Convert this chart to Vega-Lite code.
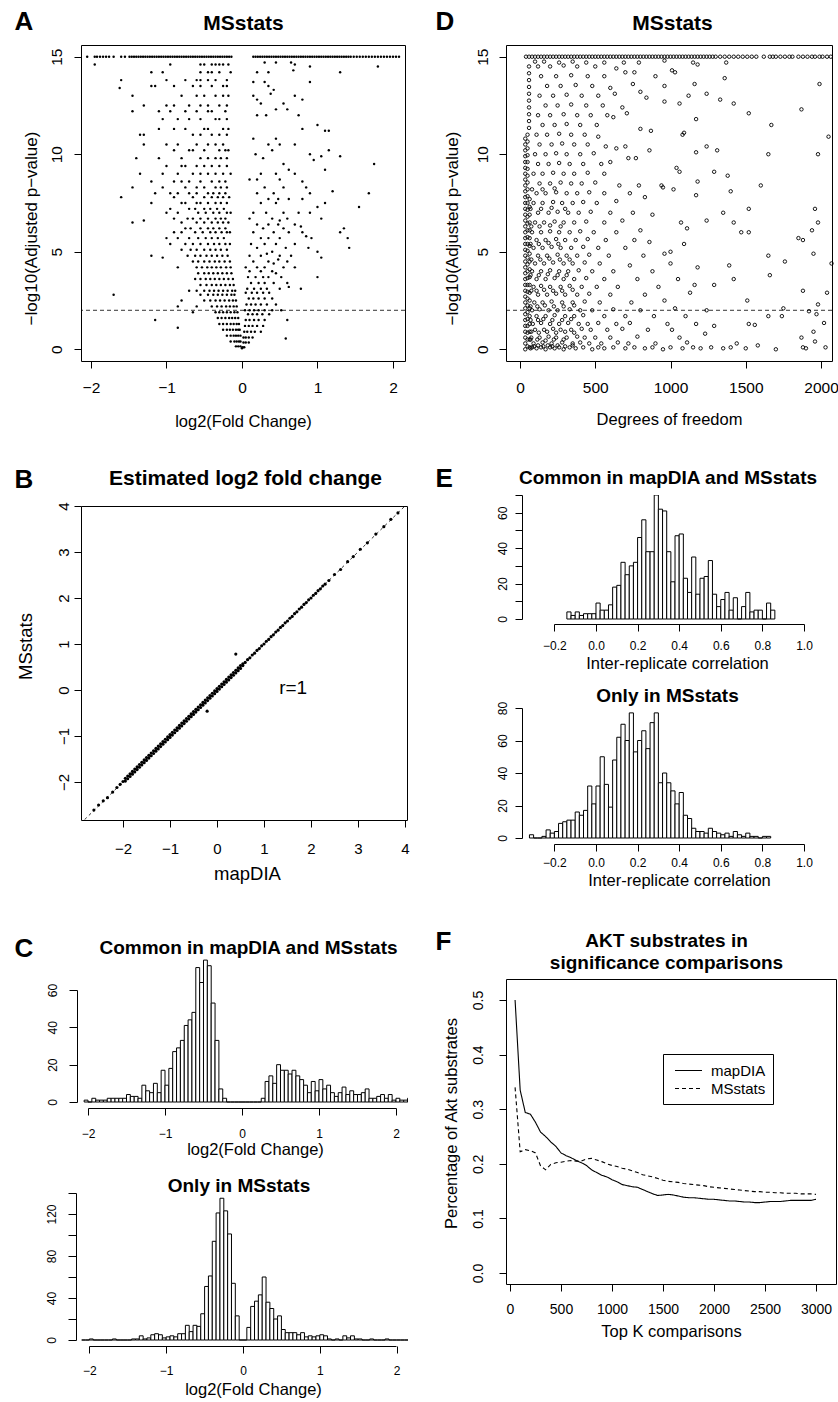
{
"$schema":"https://vega.github.io/schema/vega-lite/v6.json",
"padding":{"left":13,"top":7,"right":0,"bottom":0},
"config":{"font":"Liberation Sans","view":{"stroke":null},"axis":{"grid":false,"domainColor":"black","tickColor":"black","labelColor":"black","titleColor":"black","labelFlush":false,"labelOverlap":false,"titleFontWeight":"normal","tickWidth":1,"domainWidth":1}},
"datasets":{
"a":[
{"x":-2.05,"y":15},{"x":-1.95,"y":15},{"x":-1.92,"y":15},{"x":-1.88,"y":15},{"x":-1.84,"y":15},{"x":-1.8,"y":15},{"x":-1.76,"y":15},{"x":-1.7,"y":15},{"x":-1.6,"y":15},{"x":-1.55,"y":15},
{"x":-1.49,"y":15},{"x":-1.46,"y":15},{"x":-1.43,"y":15},{"x":-1.4,"y":15},{"x":-1.37,"y":15},{"x":-1.34,"y":15},{"x":-1.31,"y":15},{"x":-1.28,"y":15},{"x":-1.25,"y":15},{"x":-1.22,"y":15},{"x":-1.19,"y":15},{"x":-1.16,"y":15},{"x":-1.13,"y":15},{"x":-1.1,"y":15},{"x":-1.07,"y":15},{"x":-1.04,"y":15},{"x":-1.01,"y":15},{"x":-0.98,"y":15},{"x":-0.95,"y":15},{"x":-0.92,"y":15},{"x":-0.89,"y":15},{"x":-0.86,"y":15},{"x":-0.83,"y":15},{"x":-0.8,"y":15},{"x":-0.77,"y":15},{"x":-0.74,"y":15},{"x":-0.71,"y":15},{"x":-0.68,"y":15},{"x":-0.65,"y":15},{"x":-0.62,"y":15},{"x":-0.59,"y":15},{"x":-0.56,"y":15},{"x":-0.53,"y":15},{"x":-0.5,"y":15},{"x":-0.47,"y":15},{"x":-0.44,"y":15},{"x":-0.41,"y":15},{"x":-0.38,"y":15},{"x":-0.35,"y":15},{"x":-0.32,"y":15},{"x":-0.29,"y":15},{"x":-0.26,"y":15},{"x":-0.23,"y":15},{"x":-0.2,"y":15},{"x":-0.17,"y":15},{"x":-0.14,"y":15},
{"x":0.15,"y":15},{"x":0.18,"y":15},{"x":0.21,"y":15},{"x":0.24,"y":15},{"x":0.27,"y":15},{"x":0.3,"y":15},{"x":0.33,"y":15},{"x":0.36,"y":15},{"x":0.39,"y":15},{"x":0.42,"y":15},{"x":0.45,"y":15},{"x":0.48,"y":15},{"x":0.51,"y":15},{"x":0.54,"y":15},{"x":0.57,"y":15},{"x":0.6,"y":15},{"x":0.63,"y":15},{"x":0.66,"y":15},{"x":0.69,"y":15},{"x":0.72,"y":15},{"x":0.75,"y":15},{"x":0.78,"y":15},{"x":0.81,"y":15},{"x":0.84,"y":15},{"x":0.87,"y":15},{"x":0.9,"y":15},{"x":0.93,"y":15},{"x":0.96,"y":15},{"x":0.99,"y":15},{"x":1.02,"y":15},{"x":1.05,"y":15},{"x":1.08,"y":15},{"x":1.11,"y":15},{"x":1.14,"y":15},{"x":1.17,"y":15},{"x":1.2,"y":15},{"x":1.23,"y":15},{"x":1.26,"y":15},{"x":1.29,"y":15},{"x":1.32,"y":15},{"x":1.35,"y":15},{"x":1.38,"y":15},{"x":1.41,"y":15},{"x":1.44,"y":15},
{"x":1.48,"y":15},{"x":1.52,"y":15},{"x":1.56,"y":15},{"x":1.6,"y":15},{"x":1.64,"y":15},{"x":1.68,"y":15},{"x":1.72,"y":15},{"x":1.76,"y":15},{"x":1.8,"y":15},{"x":1.84,"y":15},{"x":1.88,"y":15},{"x":1.92,"y":15},{"x":1.96,"y":15},{"x":2.0,"y":15},{"x":2.04,"y":15},{"x":2.08,"y":15},
{"x":-1.95,"y":14.6},{"x":-0.95,"y":14.6},{"x":-0.55,"y":14.6},{"x":-0.5,"y":14.6},{"x":-0.4,"y":14.6},{"x":-0.35,"y":14.6},{"x":-0.3,"y":14.6},{"x":-0.25,"y":14.6},{"x":-0.18,"y":14.6},
{"x":-1.2,"y":14.2},{"x":-1.05,"y":14.2},{"x":-0.55,"y":14.2},{"x":-0.45,"y":14.2},{"x":-0.4,"y":14.2},{"x":-0.3,"y":14.2},{"x":-0.15,"y":14.2},
{"x":-1.6,"y":13.8},{"x":-1.0,"y":13.8},{"x":-0.75,"y":13.8},{"x":-0.6,"y":13.8},{"x":-0.55,"y":13.8},{"x":-0.45,"y":13.8},{"x":-0.35,"y":13.8},{"x":-0.2,"y":13.8},
{"x":-1.62,"y":13.4},{"x":-1.2,"y":13.5},{"x":-1.15,"y":13.5},{"x":-0.9,"y":13.5},{"x":-0.65,"y":13.5},{"x":-0.55,"y":13.5},{"x":-0.4,"y":13.5},{"x":-0.25,"y":13.5},{"x":-0.2,"y":13.5},
{"x":-1.45,"y":13.0},{"x":-0.8,"y":13.0},{"x":-0.6,"y":13.0},{"x":-0.5,"y":13.0},{"x":-0.35,"y":13.0},{"x":-0.25,"y":13.0},{"x":-0.18,"y":13.0},
{"x":-1.3,"y":12.5},{"x":-1.0,"y":12.5},{"x":-0.9,"y":12.5},{"x":-0.7,"y":12.5},{"x":-0.55,"y":12.5},{"x":-0.45,"y":12.5},{"x":-0.3,"y":12.5},{"x":-0.2,"y":12.5},
{"x":-1.45,"y":12.2},{"x":-1.1,"y":12.2},{"x":-0.95,"y":12.2},{"x":-0.75,"y":12.2},{"x":-0.6,"y":12.2},{"x":-0.45,"y":12.2},{"x":-0.4,"y":12.2},{"x":-0.22,"y":12.2},
{"x":-1.05,"y":11.8},{"x":-0.85,"y":11.8},{"x":-0.7,"y":11.8},{"x":-0.55,"y":11.8},{"x":-0.35,"y":11.8},{"x":-0.3,"y":11.8},{"x":-0.2,"y":11.8},
{"x":-1.1,"y":11.3},{"x":-0.9,"y":11.3},{"x":-0.75,"y":11.3},{"x":-0.5,"y":11.3},{"x":-0.45,"y":11.3},{"x":-0.25,"y":11.3},{"x":-0.18,"y":11.3},
{"x":-1.35,"y":11.0},{"x":-1.3,"y":11.0},{"x":-0.65,"y":11.0},{"x":-0.55,"y":11.0},{"x":-0.4,"y":11.0},{"x":-0.3,"y":11.0},{"x":-0.2,"y":11.0},
{"x":-1.3,"y":10.5},{"x":-1.0,"y":10.5},{"x":-0.85,"y":10.5},{"x":-0.6,"y":10.5},{"x":-0.45,"y":10.5},{"x":-0.35,"y":10.5},{"x":-0.25,"y":10.5},
{"x":-0.9,"y":10.2},{"x":-0.7,"y":10.2},{"x":-0.65,"y":10.2},{"x":-0.5,"y":10.2},{"x":-0.3,"y":10.2},{"x":-0.22,"y":10.2},{"x":-0.18,"y":10.2},
{"x":-1.4,"y":9.8},{"x":-1.1,"y":9.8},{"x":-0.8,"y":9.8},{"x":-0.55,"y":9.8},{"x":-0.45,"y":9.8},{"x":-0.35,"y":9.8},{"x":-0.28,"y":9.8},{"x":-0.2,"y":9.8},
{"x":-1.0,"y":9.4},{"x":-0.8,"y":9.4},{"x":-0.75,"y":9.4},{"x":-0.6,"y":9.4},{"x":-0.5,"y":9.4},{"x":-0.4,"y":9.4},{"x":-0.3,"y":9.4},{"x":-0.2,"y":9.4},
{"x":-1.35,"y":9.0},{"x":-1.05,"y":9.0},{"x":-0.85,"y":9.0},{"x":-0.65,"y":9.0},{"x":-0.55,"y":9.0},{"x":-0.45,"y":9.0},{"x":-0.35,"y":9.0},{"x":-0.25,"y":9.0},{"x":-0.15,"y":9.0},
{"x":-1.2,"y":8.6},{"x":-0.9,"y":8.6},{"x":-0.8,"y":8.6},{"x":-0.7,"y":8.6},{"x":-0.55,"y":8.6},{"x":-0.4,"y":8.6},{"x":-0.3,"y":8.6},{"x":-0.22,"y":8.6},
{"x":-1.45,"y":8.3},{"x":-1.05,"y":8.3},{"x":-0.75,"y":8.3},{"x":-0.6,"y":8.3},{"x":-0.5,"y":8.3},{"x":-0.35,"y":8.3},{"x":-0.28,"y":8.3},{"x":-0.2,"y":8.3},
{"x":-1.15,"y":8.0},{"x":-0.95,"y":8.0},{"x":-0.85,"y":8.0},{"x":-0.7,"y":8.0},{"x":-0.6,"y":8.0},{"x":-0.45,"y":8.0},{"x":-0.38,"y":8.0},{"x":-0.3,"y":8.0},{"x":-0.22,"y":8.0},
{"x":-1.6,"y":7.8},{"x":-0.9,"y":7.8},{"x":-0.65,"y":7.8},{"x":-0.5,"y":7.8},{"x":-0.4,"y":7.8},{"x":-0.32,"y":7.8},{"x":-0.25,"y":7.8},{"x":-0.17,"y":7.8},
{"x":-1.2,"y":7.5},{"x":-0.8,"y":7.5},{"x":-0.75,"y":7.5},{"x":-0.6,"y":7.5},{"x":-0.55,"y":7.5},{"x":-0.45,"y":7.5},{"x":-0.35,"y":7.5},{"x":-0.28,"y":7.5},{"x":-0.2,"y":7.5},
{"x":-0.95,"y":7.2},{"x":-0.7,"y":7.2},{"x":-0.62,"y":7.2},{"x":-0.5,"y":7.2},{"x":-0.42,"y":7.2},{"x":-0.33,"y":7.2},{"x":-0.24,"y":7.2},
{"x":-1.0,"y":7.0},{"x":-0.85,"y":7.0},{"x":-0.58,"y":7.0},{"x":-0.48,"y":7.0},{"x":-0.38,"y":7.0},{"x":-0.3,"y":7.0},{"x":-0.2,"y":7.0},{"x":-0.15,"y":7.0},
{"x":-0.9,"y":6.7},{"x":-0.72,"y":6.7},{"x":-0.65,"y":6.7},{"x":-0.55,"y":6.7},{"x":-0.45,"y":6.7},{"x":-0.35,"y":6.7},{"x":-0.28,"y":6.7},{"x":-0.22,"y":6.7},
{"x":-1.45,"y":6.5},{"x":-1.3,"y":6.6},{"x":-0.8,"y":6.5},{"x":-0.6,"y":6.5},{"x":-0.5,"y":6.5},{"x":-0.4,"y":6.5},{"x":-0.32,"y":6.5},{"x":-0.25,"y":6.5},{"x":-0.18,"y":6.5},
{"x":-0.75,"y":6.2},{"x":-0.68,"y":6.2},{"x":-0.55,"y":6.2},{"x":-0.45,"y":6.2},{"x":-0.38,"y":6.2},{"x":-0.3,"y":6.2},{"x":-0.22,"y":6.2},
{"x":-0.9,"y":6.0},{"x":-0.8,"y":6.0},{"x":-0.62,"y":6.0},{"x":-0.52,"y":6.0},{"x":-0.42,"y":6.0},{"x":-0.35,"y":6.0},{"x":-0.27,"y":6.0},{"x":-0.2,"y":6.0},{"x":-0.16,"y":6.0},
{"x":-1.0,"y":5.7},{"x":-0.85,"y":5.7},{"x":-0.7,"y":5.7},{"x":-0.58,"y":5.7},{"x":-0.48,"y":5.7},{"x":-0.4,"y":5.7},{"x":-0.32,"y":5.7},{"x":-0.24,"y":5.7},
{"x":-0.95,"y":5.4},{"x":-0.75,"y":5.4},{"x":-0.65,"y":5.4},{"x":-0.55,"y":5.4},{"x":-0.45,"y":5.4},{"x":-0.37,"y":5.4},{"x":-0.3,"y":5.4},{"x":-0.22,"y":5.4},{"x":-0.16,"y":5.4},
{"x":-0.8,"y":5.1},{"x":-0.68,"y":5.1},{"x":-0.6,"y":5.1},{"x":-0.5,"y":5.1},{"x":-0.42,"y":5.1},{"x":-0.35,"y":5.1},{"x":-0.28,"y":5.1},{"x":-0.2,"y":5.1},
{"x":-1.2,"y":4.8},{"x":-1.05,"y":4.7},{"x":-0.72,"y":4.8},{"x":-0.62,"y":4.8},{"x":-0.55,"y":4.8},{"x":-0.47,"y":4.8},{"x":-0.4,"y":4.8},{"x":-0.33,"y":4.8},{"x":-0.26,"y":4.8},{"x":-0.19,"y":4.8},
{"x":-0.65,"y":4.5},{"x":-0.58,"y":4.5},{"x":-0.5,"y":4.5},{"x":-0.43,"y":4.5},{"x":-0.36,"y":4.5},{"x":-0.3,"y":4.5},{"x":-0.23,"y":4.5},{"x":-0.16,"y":4.5},
{"x":-0.85,"y":4.2},{"x":-0.6,"y":4.2},{"x":-0.53,"y":4.2},{"x":-0.46,"y":4.2},{"x":-0.4,"y":4.2},{"x":-0.34,"y":4.2},{"x":-0.28,"y":4.2},{"x":-0.21,"y":4.2},{"x":-0.15,"y":4.2},
{"x":-0.58,"y":3.9},{"x":-0.5,"y":3.9},{"x":-0.44,"y":3.9},{"x":-0.38,"y":3.9},{"x":-0.32,"y":3.9},{"x":-0.26,"y":3.9},{"x":-0.2,"y":3.9},{"x":-0.14,"y":3.9},
{"x":-0.62,"y":3.6},{"x":-0.55,"y":3.6},{"x":-0.48,"y":3.6},{"x":-0.42,"y":3.6},{"x":-0.36,"y":3.6},{"x":-0.3,"y":3.6},{"x":-0.24,"y":3.6},{"x":-0.18,"y":3.6},{"x":-0.12,"y":3.6},
{"x":-0.55,"y":3.3},{"x":-0.47,"y":3.3},{"x":-0.4,"y":3.3},{"x":-0.34,"y":3.3},{"x":-0.28,"y":3.3},{"x":-0.22,"y":3.3},{"x":-0.16,"y":3.3},{"x":-0.11,"y":3.3},
{"x":-0.7,"y":3.0},{"x":-0.6,"y":3.0},{"x":-0.5,"y":3.0},{"x":-0.43,"y":3.0},{"x":-0.37,"y":3.0},{"x":-0.31,"y":3.0},{"x":-0.25,"y":3.0},{"x":-0.19,"y":3.0},{"x":-0.13,"y":3.0},{"x":-0.09,"y":3.0},
{"x":-1.7,"y":2.8},{"x":-0.55,"y":2.8},{"x":-0.45,"y":2.8},{"x":-0.38,"y":2.8},{"x":-0.32,"y":2.8},{"x":-0.26,"y":2.8},{"x":-0.2,"y":2.8},{"x":-0.14,"y":2.8},{"x":-0.1,"y":2.8},
{"x":-0.8,"y":2.5},{"x":-0.5,"y":2.5},{"x":-0.42,"y":2.5},{"x":-0.35,"y":2.5},{"x":-0.29,"y":2.5},{"x":-0.23,"y":2.5},{"x":-0.17,"y":2.5},{"x":-0.12,"y":2.5},{"x":-0.08,"y":2.5},
{"x":-0.85,"y":2.2},{"x":-0.6,"y":2.2},{"x":-0.4,"y":2.2},{"x":-0.33,"y":2.2},{"x":-0.27,"y":2.2},{"x":-0.21,"y":2.2},{"x":-0.16,"y":2.2},{"x":-0.11,"y":2.2},{"x":-0.07,"y":2.2},
{"x":-0.65,"y":1.9},{"x":-0.35,"y":1.9},{"x":-0.3,"y":1.9},{"x":-0.25,"y":1.9},{"x":-0.2,"y":1.9},{"x":-0.15,"y":1.9},{"x":-0.1,"y":1.9},{"x":-0.06,"y":1.9},
{"x":-0.32,"y":1.6},{"x":-0.27,"y":1.6},{"x":-0.22,"y":1.6},{"x":-0.17,"y":1.6},{"x":-0.13,"y":1.6},{"x":-0.09,"y":1.6},{"x":-0.05,"y":1.6},{"x":-1.15,"y":1.5},
{"x":-0.3,"y":1.3},{"x":-0.25,"y":1.3},{"x":-0.2,"y":1.3},{"x":-0.15,"y":1.3},{"x":-0.11,"y":1.3},{"x":-0.07,"y":1.3},{"x":-0.04,"y":1.3},{"x":-0.85,"y":1.1},
{"x":-0.25,"y":1.0},{"x":-0.2,"y":1.0},{"x":-0.16,"y":1.0},{"x":-0.12,"y":1.0},{"x":-0.08,"y":1.0},{"x":-0.05,"y":1.0},{"x":-0.03,"y":1.0},
{"x":-0.2,"y":0.7},{"x":-0.15,"y":0.7},{"x":-0.11,"y":0.7},{"x":-0.08,"y":0.7},{"x":-0.05,"y":0.7},{"x":-0.02,"y":0.7},
{"x":-0.15,"y":0.4},{"x":-0.1,"y":0.4},{"x":-0.07,"y":0.4},{"x":-0.04,"y":0.4},{"x":-0.02,"y":0.4},
{"x":-0.08,"y":0.15},{"x":-0.05,"y":0.15},{"x":-0.02,"y":0.15},{"x":0.0,"y":0.05},
{"x":0.3,"y":14.7},{"x":0.45,"y":14.7},{"x":0.65,"y":14.7},{"x":0.7,"y":14.6},{"x":1.8,"y":14.5},{"x":0.9,"y":14.5},
{"x":0.2,"y":14.2},{"x":0.35,"y":14.2},{"x":0.68,"y":14.3},{"x":1.3,"y":14.2},{"x":0.15,"y":13.7},{"x":0.3,"y":13.7},{"x":0.9,"y":13.7},
{"x":0.35,"y":13.5},{"x":0.42,"y":13.3},{"x":0.38,"y":13.1},{"x":0.15,"y":13.0},{"x":0.7,"y":13.0},{"x":0.8,"y":12.8},{"x":0.2,"y":12.8},
{"x":0.55,"y":12.6},{"x":0.25,"y":12.6},{"x":0.45,"y":12.3},{"x":0.6,"y":12.3},{"x":0.2,"y":12.0},{"x":0.32,"y":12.0},{"x":0.75,"y":12.0},
{"x":1.0,"y":11.5},{"x":0.8,"y":11.3},{"x":1.1,"y":11.2},{"x":1.15,"y":11.2},{"x":0.15,"y":10.8},{"x":0.45,"y":10.8},
{"x":0.35,"y":10.5},{"x":0.5,"y":10.5},{"x":0.7,"y":10.5},{"x":0.4,"y":10.2},{"x":1.15,"y":10.2},
{"x":0.18,"y":10.0},{"x":0.9,"y":10.0},{"x":1.05,"y":9.9},{"x":1.3,"y":9.9},{"x":0.28,"y":9.8},{"x":0.95,"y":9.7},
{"x":1.75,"y":9.5},{"x":0.55,"y":9.5},{"x":0.62,"y":9.2},{"x":1.1,"y":9.2},{"x":0.25,"y":9.0},{"x":0.45,"y":9.0},{"x":0.7,"y":9.0},
{"x":0.1,"y":8.7},{"x":0.2,"y":8.7},{"x":0.5,"y":8.7},{"x":0.8,"y":8.6},{"x":0.3,"y":8.3},{"x":0.55,"y":8.3},{"x":0.85,"y":8.3},
{"x":0.2,"y":8.0},{"x":0.42,"y":8.0},{"x":0.9,"y":8.0},{"x":1.2,"y":8.1},{"x":1.68,"y":8.0},
{"x":0.35,"y":7.7},{"x":0.48,"y":7.7},{"x":0.62,"y":7.7},{"x":0.8,"y":7.7},{"x":0.25,"y":7.5},{"x":0.45,"y":7.5},{"x":1.1,"y":7.5},
{"x":1.55,"y":7.3},{"x":1.0,"y":7.3},{"x":0.15,"y":7.0},{"x":0.32,"y":7.0},{"x":0.55,"y":7.0},{"x":0.75,"y":7.0},{"x":0.9,"y":7.0},
{"x":0.1,"y":6.7},{"x":0.4,"y":6.7},{"x":0.6,"y":6.7},{"x":0.5,"y":6.6},{"x":1.05,"y":6.7},
{"x":0.2,"y":6.4},{"x":0.35,"y":6.4},{"x":0.48,"y":6.4},{"x":0.7,"y":6.4},{"x":0.78,"y":6.3},
{"x":1.35,"y":6.2},{"x":0.28,"y":6.2},{"x":0.55,"y":6.2},{"x":0.15,"y":6.0},{"x":0.42,"y":6.0},{"x":0.62,"y":6.0},{"x":0.8,"y":6.0},{"x":1.3,"y":6.0},
{"x":0.25,"y":5.7},{"x":0.35,"y":5.7},{"x":0.5,"y":5.7},{"x":0.85,"y":5.8},{"x":0.92,"y":5.7},{"x":1.4,"y":5.7},
{"x":0.12,"y":5.4},{"x":0.3,"y":5.4},{"x":0.45,"y":5.4},{"x":0.7,"y":5.4},{"x":0.2,"y":5.2},{"x":0.58,"y":5.2},{"x":0.88,"y":5.2},{"x":1.42,"y":5.2},
{"x":0.4,"y":5.0},{"x":0.33,"y":4.9},{"x":1.0,"y":5.0},{"x":0.1,"y":4.8},{"x":0.25,"y":4.8},{"x":0.5,"y":4.8},{"x":0.65,"y":4.8},{"x":0.48,"y":4.6},
{"x":0.15,"y":4.5},{"x":0.35,"y":4.5},{"x":0.42,"y":4.4},{"x":0.6,"y":4.5},{"x":1.05,"y":4.7},
{"x":0.05,"y":4.2},{"x":0.2,"y":4.2},{"x":0.3,"y":4.2},{"x":0.55,"y":4.2},{"x":0.7,"y":4.2},{"x":0.1,"y":4.0},{"x":0.25,"y":4.0},{"x":0.4,"y":4.0},{"x":0.45,"y":3.9},
{"x":0.08,"y":3.7},{"x":0.18,"y":3.7},{"x":0.28,"y":3.7},{"x":0.35,"y":3.7},{"x":0.52,"y":3.7},{"x":1.0,"y":3.7},
{"x":0.12,"y":3.4},{"x":0.22,"y":3.4},{"x":0.3,"y":3.4},{"x":0.42,"y":3.4},{"x":0.6,"y":3.4},{"x":0.62,"y":3.2},
{"x":0.07,"y":3.1},{"x":0.16,"y":3.1},{"x":0.25,"y":3.1},{"x":0.33,"y":3.1},{"x":0.5,"y":3.1},{"x":0.78,"y":3.1},
{"x":0.05,"y":2.9},{"x":0.13,"y":2.9},{"x":0.2,"y":2.9},{"x":0.28,"y":2.9},{"x":0.36,"y":2.9},
{"x":0.09,"y":2.6},{"x":0.15,"y":2.6},{"x":0.22,"y":2.6},{"x":0.3,"y":2.6},{"x":0.4,"y":2.6},
{"x":0.06,"y":2.3},{"x":0.12,"y":2.3},{"x":0.18,"y":2.3},{"x":0.25,"y":2.3},{"x":0.33,"y":2.3},{"x":0.45,"y":2.3},
{"x":0.04,"y":2.0},{"x":0.1,"y":2.0},{"x":0.16,"y":2.0},{"x":0.22,"y":2.0},{"x":0.3,"y":2.0},{"x":0.4,"y":2.0},{"x":0.52,"y":2.0},
{"x":0.08,"y":1.8},{"x":0.14,"y":1.8},{"x":0.2,"y":1.8},{"x":0.27,"y":1.8},{"x":0.36,"y":1.8},
{"x":0.05,"y":1.5},{"x":0.1,"y":1.5},{"x":0.16,"y":1.5},{"x":0.22,"y":1.5},{"x":0.3,"y":1.5},{"x":0.6,"y":1.5},
{"x":0.04,"y":1.2},{"x":0.09,"y":1.2},{"x":0.14,"y":1.2},{"x":0.2,"y":1.2},{"x":0.28,"y":1.2},
{"x":0.03,"y":0.9},{"x":0.07,"y":0.9},{"x":0.12,"y":0.9},{"x":0.17,"y":0.9},{"x":0.25,"y":0.9},
{"x":0.02,"y":0.6},{"x":0.05,"y":0.6},{"x":0.09,"y":0.6},{"x":0.14,"y":0.6},{"x":0.58,"y":0.55},
{"x":0.02,"y":0.35},{"x":0.05,"y":0.35},{"x":0.09,"y":0.35},{"x":0.01,"y":0.1},{"x":0.03,"y":0.1}
],
"d":[
{"x":40,"y":15},{"x":60,"y":15},{"x":80,"y":15},{"x":100,"y":15},{"x":120,"y":15},{"x":140,"y":15},{"x":160,"y":15},{"x":180,"y":15},{"x":200,"y":15},{"x":220,"y":15},{"x":240,"y":15},{"x":260,"y":15},{"x":280,"y":15},{"x":300,"y":15},{"x":320,"y":15},{"x":340,"y":15},{"x":360,"y":15},{"x":380,"y":15},{"x":400,"y":15},{"x":420,"y":15},{"x":440,"y":15},{"x":460,"y":15},{"x":480,"y":15},{"x":500,"y":15},{"x":520,"y":15},{"x":540,"y":15},{"x":560,"y":15},{"x":580,"y":15},{"x":600,"y":15},{"x":620,"y":15},{"x":640,"y":15},{"x":660,"y":15},{"x":680,"y":15},{"x":700,"y":15},{"x":720,"y":15},{"x":740,"y":15},{"x":760,"y":15},{"x":780,"y":15},{"x":800,"y":15},{"x":820,"y":15},{"x":840,"y":15},{"x":860,"y":15},{"x":880,"y":15},{"x":900,"y":15},{"x":920,"y":15},{"x":940,"y":15},{"x":960,"y":15},{"x":980,"y":15},{"x":1000,"y":15},{"x":1020,"y":15},{"x":1040,"y":15},{"x":1060,"y":15},{"x":1080,"y":15},{"x":1100,"y":15},{"x":1120,"y":15},{"x":1140,"y":15},{"x":1160,"y":15},{"x":1180,"y":15},{"x":1200,"y":15},{"x":1220,"y":15},{"x":1240,"y":15},{"x":1260,"y":15},{"x":1280,"y":15},{"x":1300,"y":15},
{"x":1330,"y":15},{"x":1360,"y":15},{"x":1390,"y":15},{"x":1420,"y":15},{"x":1450,"y":15},{"x":1480,"y":15},{"x":1510,"y":15},{"x":1540,"y":15},{"x":1570,"y":15},{"x":1620,"y":15},{"x":1660,"y":15},{"x":1680,"y":15},{"x":1700,"y":15},{"x":1730,"y":15},{"x":1760,"y":15},{"x":1790,"y":15},{"x":1810,"y":15},{"x":1850,"y":15},{"x":1880,"y":15},{"x":1910,"y":15},{"x":1940,"y":15},{"x":1960,"y":15},{"x":1990,"y":15},{"x":2010,"y":15},{"x":2040,"y":15},{"x":2065,"y":15},
{"x":35,"y":0},{"x":35,"y":0.3},{"x":35,"y":0.6},{"x":35,"y":0.9},{"x":35,"y":1.2},{"x":35,"y":1.5},{"x":35,"y":1.8},{"x":35,"y":2.1},{"x":35,"y":2.4},{"x":35,"y":2.7},{"x":35,"y":3.0},{"x":35,"y":3.3},{"x":35,"y":3.6},{"x":35,"y":3.9},{"x":35,"y":4.2},{"x":35,"y":4.5},{"x":35,"y":4.8},{"x":35,"y":5.1},{"x":35,"y":5.4},{"x":35,"y":5.7},{"x":35,"y":6.0},{"x":35,"y":6.3},{"x":35,"y":6.6},{"x":35,"y":6.9},{"x":35,"y":7.2},{"x":35,"y":7.5},{"x":35,"y":7.8},{"x":35,"y":8.1},{"x":35,"y":8.4},{"x":35,"y":8.7},{"x":35,"y":9.0},{"x":35,"y":9.3},{"x":35,"y":9.6},{"x":35,"y":9.9},{"x":35,"y":10.2},{"x":35,"y":10.5},{"x":35,"y":10.8},
{"x":50,"y":0.15},{"x":50,"y":0.5},{"x":50,"y":0.85},{"x":50,"y":1.2},{"x":50,"y":1.55},{"x":50,"y":1.9},{"x":50,"y":2.25},{"x":50,"y":2.6},{"x":50,"y":2.95},{"x":50,"y":3.3},{"x":50,"y":3.65},{"x":50,"y":4.0},{"x":50,"y":4.35},{"x":50,"y":4.7},{"x":50,"y":5.05},{"x":50,"y":5.4},{"x":50,"y":5.75},{"x":50,"y":6.1},{"x":50,"y":6.45},{"x":50,"y":6.8},{"x":50,"y":7.15},{"x":50,"y":7.5},{"x":50,"y":7.85},{"x":50,"y":8.2},{"x":50,"y":8.55},{"x":50,"y":8.9},{"x":50,"y":9.25},{"x":50,"y":9.6},{"x":50,"y":9.95},{"x":50,"y":10.3},{"x":50,"y":10.65},{"x":50,"y":11.0},{"x":60,"y":11.35},{"x":60,"y":11.7},{"x":60,"y":12.05},{"x":60,"y":12.4},{"x":60,"y":12.75},{"x":60,"y":13.1},{"x":60,"y":13.45},{"x":60,"y":13.8},{"x":60,"y":14.15},{"x":60,"y":14.5},
{"x":64,"y":0.1},{"x":64,"y":0.5},{"x":64,"y":0.9},{"x":64,"y":1.3},{"x":64,"y":1.7},{"x":64,"y":2.1},{"x":64,"y":2.5},{"x":64,"y":2.9},{"x":64,"y":3.3},{"x":64,"y":3.7},{"x":64,"y":4.1},{"x":64,"y":4.5},{"x":64,"y":4.9},{"x":64,"y":5.3},{"x":64,"y":5.7},{"x":64,"y":6.1},{"x":64,"y":6.5},{"x":64,"y":6.9},{"x":64,"y":7.3},{"x":64,"y":7.7},
{"x":80,"y":0.1},{"x":110,"y":0.05},{"x":140,"y":0.1},{"x":170,"y":0.0},{"x":200,"y":0.1},{"x":230,"y":0.05},{"x":260,"y":0.1},{"x":290,"y":0.0},{"x":330,"y":0.1},{"x":370,"y":0.05},{"x":420,"y":0.1},{"x":480,"y":0.0},{"x":520,"y":0.1},{"x":560,"y":0.05},{"x":620,"y":0.1},{"x":700,"y":0.05},{"x":760,"y":0.1},{"x":830,"y":0.05},{"x":880,"y":0.1},{"x":950,"y":0.0},{"x":1000,"y":0.1},{"x":1080,"y":0.05},{"x":1150,"y":0.1},{"x":1200,"y":0.05},{"x":1270,"y":0.1},{"x":1350,"y":0.05},{"x":1400,"y":0.1},{"x":1500,"y":0.05},{"x":1580,"y":0.2},{"x":1700,"y":0.0},{"x":1880,"y":0.1},{"x":1900,"y":0.05},{"x":2030,"y":0.1},
{"x":90,"y":0.3},{"x":150,"y":0.35},{"x":210,"y":0.3},{"x":280,"y":0.35},{"x":350,"y":0.3},{"x":400,"y":0.35},{"x":460,"y":0.3},{"x":540,"y":0.3},{"x":650,"y":0.35},{"x":720,"y":0.3},{"x":900,"y":0.3},{"x":1110,"y":0.35},{"x":1440,"y":0.3},{"x":1960,"y":0.4},
{"x":75,"y":0.6},{"x":130,"y":0.6},{"x":190,"y":0.65},{"x":240,"y":0.6},{"x":310,"y":0.6},{"x":380,"y":0.65},{"x":430,"y":0.6},{"x":500,"y":0.6},{"x":600,"y":0.6},{"x":780,"y":0.65},{"x":1060,"y":0.6},{"x":1230,"y":0.8},{"x":1870,"y":0.6},
{"x":100,"y":1.0},{"x":160,"y":1.0},{"x":220,"y":1.05},{"x":270,"y":1.0},{"x":340,"y":1.0},{"x":410,"y":1.05},{"x":470,"y":1.0},{"x":580,"y":1.0},{"x":680,"y":1.05},{"x":850,"y":1.0},{"x":1010,"y":1.0},{"x":1290,"y":1.2},{"x":1520,"y":1.3},{"x":1950,"y":0.9},
{"x":85,"y":1.3},{"x":140,"y":1.35},{"x":200,"y":1.3},{"x":260,"y":1.3},{"x":320,"y":1.35},{"x":390,"y":1.3},{"x":450,"y":1.3},{"x":520,"y":1.35},{"x":640,"y":1.3},{"x":730,"y":1.35},{"x":980,"y":1.3},{"x":1170,"y":1.3},{"x":1560,"y":1.25},{"x":1740,"y":1.7},{"x":2020,"y":1.35},
{"x":110,"y":1.7},{"x":170,"y":1.7},{"x":230,"y":1.75},{"x":300,"y":1.7},{"x":360,"y":1.7},{"x":420,"y":1.75},{"x":560,"y":1.7},{"x":700,"y":1.7},{"x":890,"y":1.7},{"x":1100,"y":1.7},{"x":1650,"y":1.7},{"x":1970,"y":1.8},
{"x":80,"y":2.0},{"x":130,"y":2.05},{"x":190,"y":2.0},{"x":250,"y":2.0},{"x":330,"y":2.05},{"x":400,"y":2.0},{"x":480,"y":2.0},{"x":620,"y":2.05},{"x":800,"y":2.0},{"x":1030,"y":2.1},{"x":1240,"y":2.0},{"x":1750,"y":2.1},{"x":1920,"y":1.95},
{"x":95,"y":2.4},{"x":150,"y":2.4},{"x":210,"y":2.45},{"x":280,"y":2.4},{"x":350,"y":2.4},{"x":430,"y":2.45},{"x":530,"y":2.4},{"x":740,"y":2.4},{"x":960,"y":2.5},{"x":1510,"y":2.5},{"x":1980,"y":2.3},
{"x":120,"y":2.8},{"x":180,"y":2.8},{"x":240,"y":2.85},{"x":300,"y":2.8},{"x":380,"y":2.8},{"x":460,"y":2.85},{"x":600,"y":2.8},{"x":830,"y":2.8},{"x":1130,"y":2.9},{"x":1880,"y":3.0},{"x":2040,"y":2.9},
{"x":90,"y":3.2},{"x":140,"y":3.25},{"x":200,"y":3.2},{"x":270,"y":3.2},{"x":330,"y":3.25},{"x":410,"y":3.2},{"x":510,"y":3.2},{"x":650,"y":3.2},{"x":920,"y":3.2},{"x":1160,"y":3.3},{"x":1290,"y":3.3},
{"x":110,"y":3.6},{"x":170,"y":3.6},{"x":230,"y":3.65},{"x":290,"y":3.6},{"x":360,"y":3.6},{"x":440,"y":3.65},{"x":560,"y":3.6},{"x":780,"y":3.6},{"x":1050,"y":3.6},{"x":1420,"y":3.6},
{"x":80,"y":4.0},{"x":140,"y":4.0},{"x":200,"y":4.05},{"x":260,"y":4.0},{"x":320,"y":4.0},{"x":390,"y":4.05},{"x":480,"y":4.0},{"x":620,"y":4.0},{"x":880,"y":4.0},{"x":1180,"y":4.2},{"x":1660,"y":3.8},
{"x":100,"y":4.4},{"x":160,"y":4.4},{"x":220,"y":4.45},{"x":290,"y":4.4},{"x":350,"y":4.4},{"x":430,"y":4.45},{"x":530,"y":4.4},{"x":730,"y":4.3},{"x":1000,"y":4.4},{"x":1390,"y":4.3},{"x":1760,"y":4.5},{"x":2070,"y":4.4},
{"x":120,"y":4.8},{"x":180,"y":4.8},{"x":250,"y":4.85},{"x":310,"y":4.8},{"x":380,"y":4.8},{"x":460,"y":4.85},{"x":590,"y":4.8},{"x":820,"y":4.8},{"x":960,"y":4.9},{"x":1650,"y":4.8},{"x":1950,"y":4.9},
{"x":90,"y":5.2},{"x":150,"y":5.2},{"x":210,"y":5.25},{"x":270,"y":5.2},{"x":340,"y":5.2},{"x":420,"y":5.25},{"x":520,"y":5.2},{"x":700,"y":5.2},{"x":1000,"y":5.0},{"x":1090,"y":5.4},{"x":1880,"y":5.6},
{"x":110,"y":5.6},{"x":170,"y":5.6},{"x":240,"y":5.65},{"x":300,"y":5.6},{"x":370,"y":5.6},{"x":450,"y":5.65},{"x":570,"y":5.6},{"x":760,"y":5.6},{"x":860,"y":5.5},{"x":1470,"y":6.0},{"x":1850,"y":5.7},
{"x":80,"y":6.0},{"x":140,"y":6.0},{"x":200,"y":6.05},{"x":260,"y":6.0},{"x":330,"y":6.0},{"x":400,"y":6.05},{"x":490,"y":6.0},{"x":640,"y":6.0},{"x":800,"y":6.1},{"x":1110,"y":6.2},{"x":1520,"y":6.0},{"x":1940,"y":6.1},
{"x":100,"y":6.5},{"x":160,"y":6.5},{"x":230,"y":6.55},{"x":290,"y":6.5},{"x":360,"y":6.5},{"x":440,"y":6.55},{"x":560,"y":6.5},{"x":680,"y":6.6},{"x":1070,"y":6.5},{"x":1240,"y":6.6},{"x":1420,"y":6.5},{"x":1980,"y":6.5},
{"x":120,"y":7.0},{"x":190,"y":7.0},{"x":250,"y":7.05},{"x":320,"y":7.0},{"x":390,"y":7.0},{"x":470,"y":7.05},{"x":600,"y":7.0},{"x":750,"y":7.0},{"x":880,"y":6.9},{"x":1350,"y":7.0},{"x":1960,"y":7.2},
{"x":90,"y":7.5},{"x":150,"y":7.5},{"x":220,"y":7.55},{"x":280,"y":7.5},{"x":350,"y":7.5},{"x":420,"y":7.55},{"x":510,"y":7.5},{"x":640,"y":7.6},{"x":830,"y":7.8},{"x":1170,"y":7.9},{"x":1520,"y":7.2},
{"x":110,"y":8.0},{"x":170,"y":8.0},{"x":240,"y":8.05},{"x":310,"y":8.0},{"x":380,"y":8.0},{"x":460,"y":8.05},{"x":560,"y":8.0},{"x":730,"y":8.0},{"x":950,"y":8.3},{"x":1020,"y":8.2},{"x":1400,"y":8.1},
{"x":130,"y":8.5},{"x":200,"y":8.5},{"x":270,"y":8.55},{"x":340,"y":8.5},{"x":410,"y":8.5},{"x":500,"y":8.55},{"x":660,"y":8.4},{"x":790,"y":8.4},{"x":940,"y":8.4},{"x":1180,"y":8.6},{"x":1600,"y":8.4},
{"x":90,"y":9.0},{"x":150,"y":9.0},{"x":220,"y":9.05},{"x":290,"y":9.0},{"x":360,"y":9.0},{"x":450,"y":9.05},{"x":560,"y":9.0},{"x":1060,"y":9.1},{"x":1290,"y":9.1},{"x":1380,"y":8.9},
{"x":120,"y":9.5},{"x":190,"y":9.5},{"x":260,"y":9.55},{"x":330,"y":9.5},{"x":420,"y":9.5},{"x":540,"y":9.5},{"x":600,"y":9.6},{"x":720,"y":9.8},{"x":1040,"y":9.3},
{"x":100,"y":10.0},{"x":170,"y":10.0},{"x":240,"y":10.05},{"x":310,"y":10.0},{"x":400,"y":10.0},{"x":490,"y":10.05},{"x":640,"y":10.3},{"x":770,"y":9.8},{"x":860,"y":10.2},{"x":1170,"y":10.1},{"x":1310,"y":10.2},{"x":1650,"y":10.0},{"x":1980,"y":10.0},
{"x":130,"y":10.5},{"x":210,"y":10.5},{"x":280,"y":10.55},{"x":360,"y":10.5},{"x":450,"y":10.5},{"x":570,"y":10.4},{"x":700,"y":10.4},{"x":1080,"y":11.0},{"x":1240,"y":10.4},
{"x":110,"y":11.0},{"x":180,"y":11.0},{"x":260,"y":11.05},{"x":340,"y":11.0},{"x":430,"y":11.0},{"x":520,"y":10.9},{"x":800,"y":11.3},{"x":1090,"y":11.1},{"x":2050,"y":10.9},
{"x":150,"y":11.5},{"x":230,"y":11.5},{"x":310,"y":11.55},{"x":400,"y":11.5},{"x":510,"y":11.5},{"x":620,"y":11.9},{"x":870,"y":11.2},{"x":1670,"y":11.5},
{"x":120,"y":12.0},{"x":200,"y":12.0},{"x":290,"y":12.05},{"x":380,"y":12.0},{"x":470,"y":12.0},{"x":580,"y":12.0},{"x":710,"y":12.1},{"x":960,"y":12.7},{"x":1170,"y":11.8},{"x":1520,"y":12.1},{"x":1870,"y":12.3},
{"x":170,"y":12.5},{"x":250,"y":12.5},{"x":340,"y":12.55},{"x":440,"y":12.5},{"x":550,"y":12.5},{"x":680,"y":12.4},{"x":840,"y":12.9},{"x":1060,"y":12.6},{"x":1330,"y":12.8},{"x":1420,"y":12.6},
{"x":130,"y":13.0},{"x":220,"y":13.0},{"x":310,"y":13.05},{"x":410,"y":13.0},{"x":520,"y":13.0},{"x":630,"y":13.1},{"x":800,"y":13.2},{"x":1120,"y":13.0},{"x":1240,"y":13.1},
{"x":180,"y":13.5},{"x":270,"y":13.5},{"x":370,"y":13.55},{"x":480,"y":13.5},{"x":600,"y":13.4},{"x":750,"y":13.6},{"x":960,"y":13.5},{"x":1160,"y":13.6},{"x":1990,"y":13.6},
{"x":140,"y":14.0},{"x":240,"y":14.0},{"x":340,"y":14.05},{"x":450,"y":14.0},{"x":560,"y":14.0},{"x":700,"y":14.2},{"x":900,"y":14.0},{"x":1030,"y":14.2},{"x":1360,"y":13.9},
{"x":120,"y":14.5},{"x":200,"y":14.5},{"x":290,"y":14.55},{"x":380,"y":14.5},{"x":500,"y":14.5},{"x":640,"y":14.4},{"x":760,"y":14.2},{"x":1010,"y":14.3},{"x":1180,"y":14.6},
{"x":100,"y":14.75},{"x":160,"y":14.75},{"x":260,"y":14.7},{"x":350,"y":14.75},{"x":440,"y":14.7},{"x":560,"y":14.7},{"x":690,"y":14.7},{"x":790,"y":14.7},{"x":960,"y":14.8},{"x":1150,"y":14.7},{"x":1370,"y":14.7},
{"x":70,"y":0.05},{"x":95,"y":0.15},{"x":120,"y":0.2},{"x":155,"y":0.15},{"x":185,"y":0.2},{"x":215,"y":0.15},{"x":250,"y":0.2},{"x":300,"y":0.15},{"x":350,"y":0.2},
{"x":70,"y":0.5},{"x":115,"y":0.5},{"x":170,"y":0.45},{"x":225,"y":0.5},{"x":290,"y":0.5},
{"x":75,"y":0.9},{"x":125,"y":0.85},{"x":180,"y":0.9},{"x":240,"y":0.85},{"x":300,"y":0.9},{"x":360,"y":0.85},
{"x":70,"y":1.5},{"x":120,"y":1.5},{"x":155,"y":1.55},{"x":215,"y":1.5},{"x":280,"y":1.5},{"x":340,"y":1.55},
{"x":70,"y":2.2},{"x":115,"y":2.2},{"x":165,"y":2.25},{"x":225,"y":2.2},{"x":290,"y":2.2},{"x":360,"y":2.25},
{"x":75,"y":3.0},{"x":110,"y":3.0},{"x":160,"y":3.05},{"x":220,"y":3.0},{"x":280,"y":3.0},{"x":350,"y":3.05},
{"x":70,"y":3.8},{"x":125,"y":3.8},{"x":185,"y":3.85},{"x":250,"y":3.8},{"x":310,"y":3.8},
{"x":75,"y":4.6},{"x":135,"y":4.6},{"x":195,"y":4.65},{"x":265,"y":4.6},{"x":330,"y":4.6},
{"x":70,"y":5.4},{"x":125,"y":5.4},{"x":190,"y":5.45},{"x":255,"y":5.4},
{"x":75,"y":6.3},{"x":130,"y":6.3},{"x":200,"y":6.35},{"x":270,"y":6.3},
{"x":70,"y":7.2},{"x":140,"y":7.2},{"x":210,"y":7.25},{"x":300,"y":7.2},
{"x":80,"y":8.2},{"x":150,"y":8.2},{"x":230,"y":8.25}
],
"b":[
{"x":-2.62,"y":-2.61},{"x":-2.52,"y":-2.5},{"x":-2.42,"y":-2.41},{"x":-2.33,"y":-2.34},{"x":-2.22,"y":-2.22},{"x":-2.13,"y":-2.12},{"x":-2.06,"y":-2.05},{"x":-2.0,"y":-1.99},
{"x":-1.95,"y":-1.98},{"x":-1.95,"y":-1.92},{"x":-1.9,"y":-1.93},{"x":-1.9,"y":-1.87},{"x":-1.85,"y":-1.88},{"x":-1.85,"y":-1.82},{"x":-1.8,"y":-1.83},{"x":-1.8,"y":-1.77},{"x":-1.75,"y":-1.78},{"x":-1.75,"y":-1.72},{"x":-1.7,"y":-1.73},{"x":-1.7,"y":-1.67},{"x":-1.65,"y":-1.68},{"x":-1.65,"y":-1.62},{"x":-1.6,"y":-1.63},{"x":-1.6,"y":-1.57},{"x":-1.55,"y":-1.58},{"x":-1.55,"y":-1.52},{"x":-1.5,"y":-1.53},{"x":-1.5,"y":-1.47},{"x":-1.45,"y":-1.48},{"x":-1.45,"y":-1.42},{"x":-1.4,"y":-1.43},{"x":-1.4,"y":-1.37},{"x":-1.35,"y":-1.38},{"x":-1.35,"y":-1.32},{"x":-1.3,"y":-1.33},{"x":-1.3,"y":-1.27},{"x":-1.25,"y":-1.28},{"x":-1.25,"y":-1.22},{"x":-1.2,"y":-1.23},{"x":-1.2,"y":-1.17},{"x":-1.15,"y":-1.18},{"x":-1.15,"y":-1.12},{"x":-1.1,"y":-1.13},{"x":-1.1,"y":-1.07},{"x":-1.05,"y":-1.08},{"x":-1.05,"y":-1.02},{"x":-1.0,"y":-1.03},{"x":-1.0,"y":-0.97},
{"x":-0.95,"y":-0.98},{"x":-0.95,"y":-0.92},{"x":-0.9,"y":-0.93},{"x":-0.9,"y":-0.87},{"x":-0.85,"y":-0.88},{"x":-0.85,"y":-0.82},{"x":-0.8,"y":-0.83},{"x":-0.8,"y":-0.77},{"x":-0.75,"y":-0.78},{"x":-0.75,"y":-0.72},{"x":-0.7,"y":-0.73},{"x":-0.7,"y":-0.67},{"x":-0.65,"y":-0.68},{"x":-0.65,"y":-0.62},{"x":-0.6,"y":-0.63},{"x":-0.6,"y":-0.57},{"x":-0.55,"y":-0.58},{"x":-0.55,"y":-0.52},{"x":-0.5,"y":-0.53},{"x":-0.5,"y":-0.47},{"x":-0.45,"y":-0.48},{"x":-0.45,"y":-0.42},{"x":-0.4,"y":-0.43},{"x":-0.4,"y":-0.37},{"x":-0.35,"y":-0.38},{"x":-0.35,"y":-0.32},{"x":-0.3,"y":-0.33},{"x":-0.3,"y":-0.27},{"x":-0.25,"y":-0.28},{"x":-0.25,"y":-0.22},{"x":-0.2,"y":-0.23},{"x":-0.2,"y":-0.17},{"x":-0.15,"y":-0.18},{"x":-0.15,"y":-0.12},{"x":-0.1,"y":-0.13},{"x":-0.1,"y":-0.07},{"x":-0.05,"y":-0.08},{"x":-0.05,"y":-0.02},{"x":0.0,"y":-0.03},{"x":0.0,"y":0.03},{"x":0.05,"y":0.02},{"x":0.05,"y":0.08},{"x":0.1,"y":0.07},{"x":0.1,"y":0.13},{"x":0.15,"y":0.12},{"x":0.15,"y":0.18},{"x":0.2,"y":0.17},{"x":0.2,"y":0.23},{"x":0.25,"y":0.22},{"x":0.25,"y":0.28},{"x":0.3,"y":0.27},{"x":0.3,"y":0.33},{"x":0.35,"y":0.32},{"x":0.35,"y":0.38},{"x":0.4,"y":0.37},{"x":0.4,"y":0.43},{"x":0.45,"y":0.42},{"x":0.45,"y":0.48},{"x":0.5,"y":0.47},{"x":0.5,"y":0.53},{"x":0.55,"y":0.53},{"x":0.55,"y":0.57},
{"x":0.6,"y":0.6},{"x":0.65,"y":0.66},{"x":0.7,"y":0.7},{"x":0.75,"y":0.76},{"x":0.8,"y":0.8},{"x":0.85,"y":0.86},{"x":0.9,"y":0.9},{"x":0.95,"y":0.96},{"x":1.0,"y":1.0},{"x":1.05,"y":1.06},{"x":1.1,"y":1.1},{"x":1.15,"y":1.16},{"x":1.2,"y":1.2},{"x":1.25,"y":1.26},{"x":1.3,"y":1.3},{"x":1.35,"y":1.36},{"x":1.4,"y":1.4},{"x":1.45,"y":1.46},{"x":1.5,"y":1.5},{"x":1.55,"y":1.56},{"x":1.6,"y":1.6},{"x":1.65,"y":1.66},{"x":1.7,"y":1.7},{"x":1.75,"y":1.76},{"x":1.8,"y":1.8},{"x":1.85,"y":1.86},{"x":1.9,"y":1.9},{"x":1.95,"y":1.96},{"x":2.0,"y":2.0},{"x":2.05,"y":2.06},{"x":2.1,"y":2.1},{"x":2.15,"y":2.16},{"x":2.2,"y":2.2},{"x":2.25,"y":2.26},{"x":2.3,"y":2.3},
{"x":2.38,"y":2.38},{"x":2.5,"y":2.51},{"x":2.63,"y":2.62},{"x":2.78,"y":2.79},{"x":2.9,"y":2.9},{"x":3.05,"y":3.06},{"x":3.2,"y":3.2},{"x":3.38,"y":3.39},{"x":3.55,"y":3.55},{"x":3.7,"y":3.71},{"x":3.85,"y":3.85},
{"x":0.4,"y":0.78},{"x":-0.21,"y":-0.46}
],
"ct":[
{"lo":-2.05,"hi":-2,"n":1},{"lo":-2,"hi":-1.95,"n":0},{"lo":-1.95,"hi":-1.9,"n":2},{"lo":-1.9,"hi":-1.85,"n":1},{"lo":-1.85,"hi":-1.8,"n":1},{"lo":-1.8,"hi":-1.75,"n":1},{"lo":-1.75,"hi":-1.7,"n":2},{"lo":-1.7,"hi":-1.65,"n":2},{"lo":-1.65,"hi":-1.6,"n":2},{"lo":-1.6,"hi":-1.55,"n":2},{"lo":-1.55,"hi":-1.5,"n":2},{"lo":-1.5,"hi":-1.45,"n":4},{"lo":-1.45,"hi":-1.4,"n":3},{"lo":-1.4,"hi":-1.35,"n":3},{"lo":-1.35,"hi":-1.3,"n":2},{"lo":-1.3,"hi":-1.25,"n":9},{"lo":-1.25,"hi":-1.2,"n":6},{"lo":-1.2,"hi":-1.15,"n":5},{"lo":-1.15,"hi":-1.1,"n":10},{"lo":-1.1,"hi":-1.05,"n":5},{"lo":-1.05,"hi":-1,"n":17},{"lo":-1,"hi":-0.95,"n":9},{"lo":-0.95,"hi":-0.9,"n":18},{"lo":-0.9,"hi":-0.85,"n":27},{"lo":-0.85,"hi":-0.8,"n":29},{"lo":-0.8,"hi":-0.75,"n":33},{"lo":-0.75,"hi":-0.7,"n":41},{"lo":-0.7,"hi":-0.65,"n":44},{"lo":-0.65,"hi":-0.6,"n":48},{"lo":-0.6,"hi":-0.55,"n":72},{"lo":-0.55,"hi":-0.5,"n":64},{"lo":-0.5,"hi":-0.45,"n":76},{"lo":-0.45,"hi":-0.4,"n":73},{"lo":-0.4,"hi":-0.35,"n":53},{"lo":-0.35,"hi":-0.3,"n":33},{"lo":-0.3,"hi":-0.25,"n":7},{"lo":-0.25,"hi":-0.2,"n":2},
{"lo":-0.2,"hi":-0.15,"n":0},{"lo":-0.15,"hi":-0.1,"n":0},{"lo":-0.1,"hi":-0.05,"n":0},{"lo":-0.05,"hi":0,"n":0},{"lo":0,"hi":0.05,"n":0},{"lo":0.05,"hi":0.1,"n":0},{"lo":0.1,"hi":0.15,"n":0},{"lo":0.15,"hi":0.2,"n":0},{"lo":0.2,"hi":0.25,"n":0},
{"lo":0.25,"hi":0.3,"n":2},{"lo":0.3,"hi":0.35,"n":11},{"lo":0.35,"hi":0.4,"n":14},{"lo":0.4,"hi":0.45,"n":10},{"lo":0.45,"hi":0.5,"n":20},{"lo":0.5,"hi":0.55,"n":17},{"lo":0.55,"hi":0.6,"n":17},{"lo":0.6,"hi":0.65,"n":15},{"lo":0.65,"hi":0.7,"n":17},{"lo":0.7,"hi":0.75,"n":14},{"lo":0.75,"hi":0.8,"n":12},{"lo":0.8,"hi":0.85,"n":9},{"lo":0.85,"hi":0.9,"n":5},{"lo":0.9,"hi":0.95,"n":11},{"lo":0.95,"hi":1,"n":6},{"lo":1,"hi":1.05,"n":12},{"lo":1.05,"hi":1.1,"n":7},{"lo":1.1,"hi":1.15,"n":9},{"lo":1.15,"hi":1.2,"n":5},{"lo":1.2,"hi":1.25,"n":3},{"lo":1.25,"hi":1.3,"n":5},{"lo":1.3,"hi":1.35,"n":8},{"lo":1.35,"hi":1.4,"n":4},{"lo":1.4,"hi":1.45,"n":6},{"lo":1.45,"hi":1.5,"n":4},{"lo":1.5,"hi":1.55,"n":4},{"lo":1.55,"hi":1.6,"n":5},{"lo":1.6,"hi":1.65,"n":7},{"lo":1.65,"hi":1.7,"n":2},{"lo":1.7,"hi":1.75,"n":2},{"lo":1.75,"hi":1.8,"n":3},{"lo":1.8,"hi":1.85,"n":4},{"lo":1.85,"hi":1.9,"n":2},{"lo":1.9,"hi":1.95,"n":4},{"lo":1.95,"hi":2,"n":1},{"lo":2,"hi":2.05,"n":2},{"lo":2.05,"hi":2.1,"n":1},{"lo":2.1,"hi":2.15,"n":1},{"lo":2.15,"hi":2.2,"n":2}
],
"cb":[
{"lo":-2.1,"hi":-2.05,"n":0},{"lo":-2.05,"hi":-2,"n":0},{"lo":-2,"hi":-1.95,"n":1},{"lo":-1.95,"hi":-1.9,"n":0},{"lo":-1.9,"hi":-1.85,"n":0},{"lo":-1.85,"hi":-1.8,"n":0},{"lo":-1.8,"hi":-1.75,"n":0},{"lo":-1.75,"hi":-1.7,"n":0},{"lo":-1.7,"hi":-1.65,"n":1},{"lo":-1.65,"hi":-1.6,"n":0},{"lo":-1.6,"hi":-1.55,"n":0},{"lo":-1.55,"hi":-1.5,"n":0},{"lo":-1.5,"hi":-1.45,"n":0},{"lo":-1.45,"hi":-1.4,"n":1},{"lo":-1.4,"hi":-1.35,"n":1},{"lo":-1.35,"hi":-1.3,"n":4},{"lo":-1.3,"hi":-1.25,"n":1},{"lo":-1.25,"hi":-1.2,"n":2},{"lo":-1.2,"hi":-1.15,"n":5},{"lo":-1.15,"hi":-1.1,"n":6},{"lo":-1.1,"hi":-1.05,"n":5},{"lo":-1.05,"hi":-1,"n":2},{"lo":-1,"hi":-0.95,"n":3},{"lo":-0.95,"hi":-0.9,"n":4},{"lo":-0.9,"hi":-0.85,"n":3},{"lo":-0.85,"hi":-0.8,"n":6},{"lo":-0.8,"hi":-0.75,"n":6},{"lo":-0.75,"hi":-0.7,"n":14},{"lo":-0.7,"hi":-0.65,"n":8},{"lo":-0.65,"hi":-0.6,"n":14},{"lo":-0.6,"hi":-0.55,"n":13},{"lo":-0.55,"hi":-0.5,"n":25},{"lo":-0.5,"hi":-0.45,"n":51},{"lo":-0.45,"hi":-0.4,"n":61},{"lo":-0.4,"hi":-0.35,"n":94},{"lo":-0.35,"hi":-0.3,"n":121},{"lo":-0.3,"hi":-0.25,"n":135},{"lo":-0.25,"hi":-0.2,"n":123},{"lo":-0.2,"hi":-0.15,"n":101},{"lo":-0.15,"hi":-0.1,"n":54},{"lo":-0.1,"hi":-0.05,"n":23},{"lo":-0.05,"hi":0,"n":0},{"lo":0,"hi":0.05,"n":0},{"lo":0.05,"hi":0.1,"n":12},{"lo":0.1,"hi":0.15,"n":32},{"lo":0.15,"hi":0.2,"n":37},{"lo":0.2,"hi":0.25,"n":43},{"lo":0.25,"hi":0.3,"n":60},{"lo":0.3,"hi":0.35,"n":36},{"lo":0.35,"hi":0.4,"n":30},{"lo":0.4,"hi":0.45,"n":20},{"lo":0.45,"hi":0.5,"n":23},{"lo":0.5,"hi":0.55,"n":10},{"lo":0.55,"hi":0.6,"n":7},{"lo":0.6,"hi":0.65,"n":7},{"lo":0.65,"hi":0.7,"n":7},{"lo":0.7,"hi":0.75,"n":5},{"lo":0.75,"hi":0.8,"n":7},{"lo":0.8,"hi":0.85,"n":3},{"lo":0.85,"hi":0.9,"n":4},{"lo":0.9,"hi":0.95,"n":3},{"lo":0.95,"hi":1,"n":4},{"lo":1,"hi":1.05,"n":5},{"lo":1.05,"hi":1.1,"n":4},{"lo":1.1,"hi":1.15,"n":1},{"lo":1.15,"hi":1.2,"n":0},{"lo":1.2,"hi":1.25,"n":1},{"lo":1.25,"hi":1.3,"n":0},{"lo":1.3,"hi":1.35,"n":4},{"lo":1.35,"hi":1.4,"n":2},{"lo":1.4,"hi":1.45,"n":4},{"lo":1.45,"hi":1.5,"n":1},{"lo":1.5,"hi":1.55,"n":1},{"lo":1.55,"hi":1.6,"n":0},{"lo":1.6,"hi":1.65,"n":0},{"lo":1.65,"hi":1.7,"n":1},{"lo":1.7,"hi":1.75,"n":0},{"lo":1.75,"hi":1.8,"n":0},{"lo":1.8,"hi":1.85,"n":0},{"lo":1.85,"hi":1.9,"n":1},{"lo":1.9,"hi":1.95,"n":0},{"lo":1.95,"hi":2,"n":0},{"lo":2,"hi":2.05,"n":0},{"lo":2.05,"hi":2.1,"n":0},{"lo":2.1,"hi":2.15,"n":0},{"lo":2.15,"hi":2.2,"n":0}
],
"et":[
{"lo":-0.14,"hi":-0.12,"n":4},{"lo":-0.12,"hi":-0.1,"n":2},{"lo":-0.1,"hi":-0.08,"n":4},{"lo":-0.08,"hi":-0.06,"n":2},{"lo":-0.06,"hi":-0.04,"n":3},{"lo":-0.04,"hi":-0.02,"n":3},{"lo":-0.02,"hi":0,"n":3},{"lo":0,"hi":0.02,"n":9},{"lo":0.02,"hi":0.04,"n":5},{"lo":0.04,"hi":0.06,"n":5},{"lo":0.06,"hi":0.08,"n":8},{"lo":0.08,"hi":0.1,"n":18},{"lo":0.1,"hi":0.12,"n":19},{"lo":0.12,"hi":0.14,"n":32},{"lo":0.14,"hi":0.16,"n":25},{"lo":0.16,"hi":0.18,"n":30},{"lo":0.18,"hi":0.2,"n":32},{"lo":0.2,"hi":0.22,"n":46},{"lo":0.22,"hi":0.24,"n":56},{"lo":0.24,"hi":0.26,"n":38},{"lo":0.26,"hi":0.28,"n":38},{"lo":0.28,"hi":0.3,"n":70},{"lo":0.3,"hi":0.32,"n":62},{"lo":0.32,"hi":0.34,"n":61},{"lo":0.34,"hi":0.36,"n":38},{"lo":0.36,"hi":0.38,"n":21},{"lo":0.38,"hi":0.4,"n":47},{"lo":0.4,"hi":0.42,"n":48},{"lo":0.42,"hi":0.44,"n":23},{"lo":0.44,"hi":0.46,"n":15},{"lo":0.46,"hi":0.48,"n":35},{"lo":0.48,"hi":0.5,"n":14},{"lo":0.5,"hi":0.52,"n":23},{"lo":0.52,"hi":0.54,"n":24},{"lo":0.54,"hi":0.56,"n":33},{"lo":0.56,"hi":0.58,"n":14},{"lo":0.58,"hi":0.6,"n":7},{"lo":0.6,"hi":0.62,"n":11},{"lo":0.62,"hi":0.64,"n":15},{"lo":0.64,"hi":0.66,"n":5},{"lo":0.66,"hi":0.68,"n":12},{"lo":0.68,"hi":0.7,"n":0},{"lo":0.7,"hi":0.72,"n":7},{"lo":0.72,"hi":0.74,"n":15},{"lo":0.74,"hi":0.76,"n":4},{"lo":0.76,"hi":0.78,"n":5},{"lo":0.78,"hi":0.8,"n":5},{"lo":0.8,"hi":0.82,"n":0},{"lo":0.82,"hi":0.84,"n":9},{"lo":0.84,"hi":0.86,"n":5}
],
"eb":[
{"lo":-0.32,"hi":-0.3,"n":2},{"lo":-0.3,"hi":-0.28,"n":0},{"lo":-0.28,"hi":-0.26,"n":0},{"lo":-0.26,"hi":-0.24,"n":1},{"lo":-0.24,"hi":-0.22,"n":5},{"lo":-0.22,"hi":-0.2,"n":3},{"lo":-0.2,"hi":-0.18,"n":4},{"lo":-0.18,"hi":-0.16,"n":9},{"lo":-0.16,"hi":-0.14,"n":10},{"lo":-0.14,"hi":-0.12,"n":11},{"lo":-0.12,"hi":-0.1,"n":11},{"lo":-0.1,"hi":-0.08,"n":16},{"lo":-0.08,"hi":-0.06,"n":14},{"lo":-0.06,"hi":-0.04,"n":17},{"lo":-0.04,"hi":-0.02,"n":32},{"lo":-0.02,"hi":0,"n":21},{"lo":0,"hi":0.02,"n":32},{"lo":0.02,"hi":0.04,"n":50},{"lo":0.04,"hi":0.06,"n":33},{"lo":0.06,"hi":0.08,"n":19},{"lo":0.08,"hi":0.1,"n":48},{"lo":0.1,"hi":0.12,"n":62},{"lo":0.12,"hi":0.14,"n":70},{"lo":0.14,"hi":0.16,"n":60},{"lo":0.16,"hi":0.18,"n":77},{"lo":0.18,"hi":0.2,"n":53},{"lo":0.2,"hi":0.22,"n":60},{"lo":0.22,"hi":0.24,"n":66},{"lo":0.24,"hi":0.26,"n":55},{"lo":0.26,"hi":0.28,"n":71},{"lo":0.28,"hi":0.3,"n":77},{"lo":0.3,"hi":0.32,"n":34},{"lo":0.32,"hi":0.34,"n":40},{"lo":0.34,"hi":0.36,"n":34},{"lo":0.36,"hi":0.38,"n":29},{"lo":0.38,"hi":0.4,"n":21},{"lo":0.4,"hi":0.42,"n":28},{"lo":0.42,"hi":0.44,"n":14},{"lo":0.44,"hi":0.46,"n":12},{"lo":0.46,"hi":0.48,"n":6},{"lo":0.48,"hi":0.5,"n":4},{"lo":0.5,"hi":0.52,"n":4},{"lo":0.52,"hi":0.54,"n":3},{"lo":0.54,"hi":0.56,"n":6},{"lo":0.56,"hi":0.58,"n":4},{"lo":0.58,"hi":0.6,"n":3},{"lo":0.6,"hi":0.62,"n":2},{"lo":0.62,"hi":0.64,"n":3},{"lo":0.64,"hi":0.66,"n":1},{"lo":0.66,"hi":0.68,"n":4},{"lo":0.68,"hi":0.7,"n":2},{"lo":0.7,"hi":0.72,"n":1},{"lo":0.72,"hi":0.74,"n":3},{"lo":0.74,"hi":0.76,"n":1},{"lo":0.76,"hi":0.78,"n":1},{"lo":0.78,"hi":0.8,"n":0},{"lo":0.8,"hi":0.82,"n":1},{"lo":0.82,"hi":0.84,"n":1}
],
"f":[
{"k":50,"p":0.5,"m":"mapDIA"},{"k":100,"p":0.335,"m":"mapDIA"},{"k":150,"p":0.294,"m":"mapDIA"},{"k":200,"p":0.291,"m":"mapDIA"},{"k":250,"p":0.276,"m":"mapDIA"},{"k":300,"p":0.258,"m":"mapDIA"},{"k":350,"p":0.25,"m":"mapDIA"},{"k":400,"p":0.24,"m":"mapDIA"},{"k":450,"p":0.232,"m":"mapDIA"},{"k":500,"p":0.22,"m":"mapDIA"},{"k":550,"p":0.215,"m":"mapDIA"},{"k":600,"p":0.211,"m":"mapDIA"},{"k":650,"p":0.206,"m":"mapDIA"},{"k":700,"p":0.202,"m":"mapDIA"},{"k":750,"p":0.197,"m":"mapDIA"},{"k":800,"p":0.189,"m":"mapDIA"},{"k":850,"p":0.184,"m":"mapDIA"},{"k":900,"p":0.179,"m":"mapDIA"},{"k":950,"p":0.176,"m":"mapDIA"},{"k":1000,"p":0.171,"m":"mapDIA"},{"k":1050,"p":0.167,"m":"mapDIA"},{"k":1100,"p":0.162,"m":"mapDIA"},{"k":1150,"p":0.16,"m":"mapDIA"},{"k":1200,"p":0.158,"m":"mapDIA"},{"k":1250,"p":0.157,"m":"mapDIA"},{"k":1300,"p":0.153,"m":"mapDIA"},{"k":1350,"p":0.149,"m":"mapDIA"},{"k":1400,"p":0.145,"m":"mapDIA"},{"k":1450,"p":0.142,"m":"mapDIA"},{"k":1500,"p":0.143,"m":"mapDIA"},{"k":1550,"p":0.144,"m":"mapDIA"},{"k":1600,"p":0.143,"m":"mapDIA"},{"k":1650,"p":0.141,"m":"mapDIA"},{"k":1700,"p":0.139,"m":"mapDIA"},{"k":1750,"p":0.138,"m":"mapDIA"},{"k":1800,"p":0.138,"m":"mapDIA"},{"k":1850,"p":0.137,"m":"mapDIA"},{"k":1900,"p":0.136,"m":"mapDIA"},{"k":1950,"p":0.135,"m":"mapDIA"},{"k":2000,"p":0.135,"m":"mapDIA"},{"k":2050,"p":0.134,"m":"mapDIA"},{"k":2100,"p":0.133,"m":"mapDIA"},{"k":2150,"p":0.132,"m":"mapDIA"},{"k":2200,"p":0.132,"m":"mapDIA"},{"k":2250,"p":0.131,"m":"mapDIA"},{"k":2300,"p":0.13,"m":"mapDIA"},{"k":2350,"p":0.13,"m":"mapDIA"},{"k":2400,"p":0.129,"m":"mapDIA"},{"k":2450,"p":0.129,"m":"mapDIA"},{"k":2500,"p":0.13,"m":"mapDIA"},{"k":2550,"p":0.131,"m":"mapDIA"},{"k":2600,"p":0.131,"m":"mapDIA"},{"k":2650,"p":0.131,"m":"mapDIA"},{"k":2700,"p":0.132,"m":"mapDIA"},{"k":2750,"p":0.133,"m":"mapDIA"},{"k":2800,"p":0.133,"m":"mapDIA"},{"k":2850,"p":0.133,"m":"mapDIA"},{"k":2900,"p":0.133,"m":"mapDIA"},{"k":2950,"p":0.133,"m":"mapDIA"},{"k":3000,"p":0.135,"m":"mapDIA"},
{"k":50,"p":0.34,"m":"MSstats"},{"k":100,"p":0.222,"m":"MSstats"},{"k":150,"p":0.226,"m":"MSstats"},{"k":200,"p":0.224,"m":"MSstats"},{"k":250,"p":0.22,"m":"MSstats"},{"k":300,"p":0.196,"m":"MSstats"},{"k":350,"p":0.189,"m":"MSstats"},{"k":400,"p":0.199,"m":"MSstats"},{"k":450,"p":0.202,"m":"MSstats"},{"k":500,"p":0.203,"m":"MSstats"},{"k":550,"p":0.205,"m":"MSstats"},{"k":600,"p":0.206,"m":"MSstats"},{"k":650,"p":0.205,"m":"MSstats"},{"k":700,"p":0.205,"m":"MSstats"},{"k":750,"p":0.209,"m":"MSstats"},{"k":800,"p":0.21,"m":"MSstats"},{"k":850,"p":0.207,"m":"MSstats"},{"k":900,"p":0.204,"m":"MSstats"},{"k":950,"p":0.2,"m":"MSstats"},{"k":1000,"p":0.197,"m":"MSstats"},{"k":1050,"p":0.195,"m":"MSstats"},{"k":1100,"p":0.192,"m":"MSstats"},{"k":1150,"p":0.19,"m":"MSstats"},{"k":1200,"p":0.187,"m":"MSstats"},{"k":1250,"p":0.184,"m":"MSstats"},{"k":1300,"p":0.18,"m":"MSstats"},{"k":1350,"p":0.178,"m":"MSstats"},{"k":1400,"p":0.176,"m":"MSstats"},{"k":1450,"p":0.173,"m":"MSstats"},{"k":1500,"p":0.17,"m":"MSstats"},{"k":1550,"p":0.168,"m":"MSstats"},{"k":1600,"p":0.167,"m":"MSstats"},{"k":1650,"p":0.166,"m":"MSstats"},{"k":1700,"p":0.164,"m":"MSstats"},{"k":1750,"p":0.163,"m":"MSstats"},{"k":1800,"p":0.162,"m":"MSstats"},{"k":1850,"p":0.161,"m":"MSstats"},{"k":1900,"p":0.16,"m":"MSstats"},{"k":1950,"p":0.158,"m":"MSstats"},{"k":2000,"p":0.157,"m":"MSstats"},{"k":2050,"p":0.156,"m":"MSstats"},{"k":2100,"p":0.155,"m":"MSstats"},{"k":2150,"p":0.154,"m":"MSstats"},{"k":2200,"p":0.153,"m":"MSstats"},{"k":2250,"p":0.152,"m":"MSstats"},{"k":2300,"p":0.151,"m":"MSstats"},{"k":2350,"p":0.15,"m":"MSstats"},{"k":2400,"p":0.149,"m":"MSstats"},{"k":2450,"p":0.149,"m":"MSstats"},{"k":2500,"p":0.148,"m":"MSstats"},{"k":2550,"p":0.148,"m":"MSstats"},{"k":2600,"p":0.147,"m":"MSstats"},{"k":2650,"p":0.147,"m":"MSstats"},{"k":2700,"p":0.146,"m":"MSstats"},{"k":2750,"p":0.146,"m":"MSstats"},{"k":2800,"p":0.146,"m":"MSstats"},{"k":2850,"p":0.145,"m":"MSstats"},{"k":2900,"p":0.145,"m":"MSstats"},{"k":2950,"p":0.145,"m":"MSstats"},{"k":3000,"p":0.144,"m":"MSstats"}
]
},
"resolve":{"legend":{"strokeDash":"independent"},"scale":{"strokeDash":"independent"}},
"hconcat":[
{"vconcat":[
 {"width":324,"height":316,"view":{"stroke":"black","strokeWidth":1},
  "layer":[
   {"data":{"name":"a"},"mark":{"type":"circle","size":6,"color":"black","opacity":1},
    "encoding":{
     "x":{"field":"x","type":"quantitative","scale":{"domain":[-2.132,2.159],"nice":false,"zero":false},"axis":{"values":[-2,-1,0,1,2],"domain":false,"tickSize":7,"labelPadding":12,"labelFontSize":15.5,"title":"log2(Fold Change)","titleFontSize":16.5,"titleX":162,"titleY":65,"titleAlign":"center","titleBaseline":"alphabetic"}},
     "y":{"field":"y","type":"quantitative","scale":{"domain":[-0.6,15.6],"nice":false,"zero":false},"axis":{"values":[0,5,10,15],"domain":false,"tickSize":7,"labelAngle":-90,"labelAlign":"center","labelBaseline":"bottom","labelPadding":10,"labelFontSize":15.5,"title":"−log10(Adjusted p−value)","titleFontSize":17,"titleAngle":-90,"titleX":-45,"titleY":183,"titleAlign":"center","titleBaseline":"alphabetic"}}}},
   {"data":{"values":[{}]},"mark":{"type":"rule","strokeDash":[4,3],"strokeWidth":0.8,"color":"black"},"encoding":{"y":{"datum":2,"type":"quantitative","axis":null}}},
   {"data":{"values":[{}]},"mark":{"type":"point","opacity":0},"encoding":{
     "x":{"datum":0,"type":"quantitative","axis":{"orient":"top","labels":false,"ticks":false,"domain":false,"title":"MSstats","titleX":162,"titleY":-16,"titleAlign":"center","titleBaseline":"alphabetic","titleFontSize":21,"titleFontWeight":"bold"}},
     "y":{"datum":0,"type":"quantitative","axis":{"orient":"left","labels":false,"ticks":false,"domain":false,"title":"A","titleAngle":0,"titleX":-67,"titleY":-16,"titleAlign":"left","titleBaseline":"alphabetic","titleFontSize":26,"titleFontWeight":"bold"}}}}
  ],
  "resolve":{"axis":{"x":"independent","y":"independent"}}},
 {"width":335,"height":145,"data":{"values":[]},"mark":"point","encoding":{}},
 {"width":326,"height":314,"view":{"stroke":"black","strokeWidth":1},
  "layer":[
   {"data":{"values":[{"x":-3,"y":-3},{"x":4.2,"y":4.2}]},"mark":{"type":"line","strokeDash":[3,3],"strokeWidth":0.8,"color":"black","clip":true},"encoding":{"x":{"field":"x","type":"quantitative","axis":null},"y":{"field":"y","type":"quantitative","axis":null}}},
   {"data":{"name":"b"},"mark":{"type":"circle","size":10,"color":"black","opacity":1},
    "encoding":{
     "x":{"field":"x","type":"quantitative","scale":{"domain":[-2.894,4.043],"nice":false,"zero":false},"axis":{"values":[-2,-1,0,1,2,3,4],"domain":false,"tickSize":7,"labelPadding":14,"labelFontSize":15,"title":"mapDIA","titleFontSize":18.5,"titleX":166,"titleY":59,"titleAlign":"center","titleBaseline":"alphabetic"}},
     "y":{"field":"y","type":"quantitative","scale":{"domain":[-2.826,4.0],"nice":false,"zero":false},"axis":{"values":[-2,-1,0,1,2,3,4],"domain":false,"tickSize":7,"labelAngle":-90,"labelAlign":"center","labelBaseline":"bottom","labelPadding":3,"labelFontSize":15,"title":"MSstats","titleFontSize":18.5,"titleAngle":-90,"titleX":-50,"titleY":140,"titleAlign":"center","titleBaseline":"alphabetic"}}}},
   {"data":{"values":[{"x":1.62,"y":0.04,"t":"r=1"}]},"mark":{"type":"text","fontSize":19,"color":"black","align":"center","baseline":"middle"},"encoding":{"x":{"field":"x","type":"quantitative","axis":null},"y":{"field":"y","type":"quantitative","axis":null},"text":{"field":"t"}}},
   {"data":{"values":[{}]},"mark":{"type":"point","opacity":0},"encoding":{
     "x":{"datum":0,"type":"quantitative","axis":{"orient":"top","labels":false,"ticks":false,"domain":false,"title":"Estimated log2 fold change","titleX":164,"titleY":-22,"titleAlign":"center","titleBaseline":"alphabetic","titleFontSize":21,"titleFontWeight":"bold"}},
     "y":{"datum":0,"type":"quantitative","axis":{"orient":"left","labels":false,"ticks":false,"domain":false,"title":"B","titleAngle":0,"titleX":-67,"titleY":-19,"titleAlign":"left","titleBaseline":"alphabetic","titleFontSize":26,"titleFontWeight":"bold"}}}}
  ],
  "resolve":{"axis":{"x":"independent","y":"independent"}}},
 {"width":335,"height":134,"data":{"values":[]},"mark":"point","encoding":{}},
 {"width":327,"height":154,
  "layer":[
   {"data":{"name":"ct"},"mark":{"type":"rect","fill":"white","stroke":"black","strokeWidth":1,"clip":true},
    "encoding":{
     "x":{"field":"lo","type":"quantitative","scale":{"domain":[-2.091,2.156],"nice":false,"zero":false},"axis":{"values":[-2,-1,0,1,2],"domain":true,"domainDash":[308,1000],"domainDashOffset":-7,"tickSize":7,"labelPadding":13,"labelFontSize":12,"title":"log2(Fold Change)","titleFontSize":16.5,"titleX":174,"titleY":46,"titleAlign":"center","titleBaseline":"alphabetic"}},
     "x2":{"field":"hi"},
     "y":{"field":"n","type":"quantitative","scale":{"domain":[-3.21,79.27],"nice":false,"zero":false},"axis":{"values":[0,20,40,60],"offset":4,"domain":true,"domainDash":[112,1000],"domainDashOffset":-6,"tickSize":8,"labelAngle":-90,"labelAlign":"center","labelBaseline":"bottom","labelPadding":9.5,"labelFontSize":12,"title":null}},
     "y2":{"datum":0}}},
   {"data":{"values":[{}]},"mark":{"type":"point","opacity":0},"encoding":{
     "x":{"datum":0,"type":"quantitative","axis":{"orient":"top","labels":false,"ticks":false,"domain":false,"title":"Common in mapDIA and MSstats","titleX":167,"titleY":-1,"titleAlign":"center","titleBaseline":"alphabetic","titleFontSize":19,"titleFontWeight":"bold"}},
     "y":{"datum":0,"type":"quantitative","axis":{"orient":"left","labels":false,"ticks":false,"domain":false,"title":"C","titleAngle":0,"titleX":-67,"titleY":2,"titleAlign":"left","titleBaseline":"alphabetic","titleFontSize":26,"titleFontWeight":"bold"}}}}
  ],
  "resolve":{"axis":{"x":"independent","y":"independent"}}},
 {"width":335,"height":85,"data":{"values":[]},"mark":"point","encoding":{}},
 {"width":327,"height":153,
  "layer":[
   {"data":{"name":"cb"},"mark":{"type":"rect","fill":"white","stroke":"black","strokeWidth":1,"clip":true},
    "encoding":{
     "x":{"field":"lo","type":"quantitative","scale":{"domain":[-2.109,2.148],"nice":false,"zero":false},"axis":{"values":[-2,-1,0,1,2],"domain":true,"domainDash":[307,1000],"domainDashOffset":-8,"tickSize":7,"labelPadding":12,"labelFontSize":12,"title":"log2(Fold Change)","titleFontSize":16.5,"titleX":172,"titleY":48,"titleAlign":"center","titleBaseline":"alphabetic"}},
     "x2":{"field":"hi"},
     "y":{"field":"n","type":"quantitative","scale":{"domain":[-5.7,140],"nice":false,"zero":false},"axis":{"values":[0,20,40,60,80,100,120,140],"labelExpr":"datum.value % 40 === 0 ? datum.label : ''","offset":5,"domain":true,"domainDash":[147,1000],"domainDashOffset":-6,"tickSize":8,"labelAngle":-90,"labelAlign":"center","labelBaseline":"bottom","labelPadding":9.5,"labelFontSize":12,"title":null}},
     "y2":{"datum":0}}},
   {"data":{"values":[{}]},"mark":{"type":"point","opacity":0},"encoding":{
     "x":{"datum":0,"type":"quantitative","axis":{"orient":"top","labels":false,"ticks":false,"domain":false,"title":"Only in MSstats","titleX":157.5,"titleY":-2,"titleAlign":"center","titleBaseline":"alphabetic","titleFontSize":19,"titleFontWeight":"bold"}}}}
  ],
  "resolve":{"axis":{"x":"independent","y":"independent"}}}
 ],"spacing":0,"bounds":"flush"},
{"vconcat":[
 {"width":326,"height":316,"view":{"stroke":"black","strokeWidth":1},
  "layer":[
   {"data":{"name":"d"},"mark":{"type":"point","filled":false,"size":12,"strokeWidth":0.9,"color":"black","opacity":1},
    "encoding":{
     "x":{"field":"x","type":"quantitative","scale":{"domain":[-93,2073],"nice":false,"zero":false},"axis":{"values":[0,500,1000,1500,2000],"format":"d","domain":false,"tickSize":7,"labelPadding":12,"labelFontSize":15.5,"title":"Degrees of freedom","titleFontSize":16.5,"titleX":163,"titleY":63,"titleAlign":"center","titleBaseline":"alphabetic"}},
     "y":{"field":"y","type":"quantitative","scale":{"domain":[-0.6,15.6],"nice":false,"zero":false},"axis":{"values":[0,5,10,15],"domain":false,"tickSize":7,"labelAngle":-90,"labelAlign":"center","labelBaseline":"bottom","labelPadding":9,"labelFontSize":15.5,"title":"−log10(Adjusted p−value)","titleFontSize":17,"titleAngle":-90,"titleX":-49,"titleY":183,"titleAlign":"center","titleBaseline":"alphabetic"}}}},
   {"data":{"values":[{}]},"mark":{"type":"rule","strokeDash":[4,3],"strokeWidth":0.8,"color":"black"},"encoding":{"y":{"datum":2,"type":"quantitative","axis":null}}},
   {"data":{"values":[{}]},"mark":{"type":"point","opacity":0},"encoding":{
     "x":{"datum":0,"type":"quantitative","axis":{"orient":"top","labels":false,"ticks":false,"domain":false,"title":"MSstats","titleX":166,"titleY":-16,"titleAlign":"center","titleBaseline":"alphabetic","titleFontSize":21,"titleFontWeight":"bold"}},
     "y":{"datum":0,"type":"quantitative","axis":{"orient":"left","labels":false,"ticks":false,"domain":false,"title":"D","titleAngle":0,"titleX":-71,"titleY":-16,"titleAlign":"left","titleBaseline":"alphabetic","titleFontSize":26,"titleFontWeight":"bold"}}}}
  ],
  "resolve":{"axis":{"x":"independent","y":"independent"}}},
 {"width":1,"height":134,"data":{"values":[]},"mark":"point","encoding":{}},
 {"width":309,"height":129,
  "layer":[
   {"data":{"name":"et"},"mark":{"type":"rect","fill":"white","stroke":"black","strokeWidth":1,"clip":true},
    "encoding":{
     "x":{"field":"lo","type":"quantitative","scale":{"domain":[-0.4327,1.053],"nice":false,"zero":false},"axis":{"values":[-0.2,0,0.2,0.4,0.6,0.8,1.0],"format":".1f","domain":true,"domainDash":[250,1000],"domainDashOffset":-48,"tickSize":7,"labelPadding":9,"labelFontSize":12,"title":"Inter-replicate correlation","titleFontSize":16.5,"titleX":171,"titleY":44,"titleAlign":"center","titleBaseline":"alphabetic"}},
     "x2":{"field":"hi"},
     "y":{"field":"n","type":"quantitative","scale":{"domain":[-2.82,70],"nice":false,"zero":false},"axis":{"values":[0,10,20,30,40,50,60,70],"labelExpr":"datum.value % 20 === 0 ? datum.label : ''","offset":-16,"domain":true,"domainDash":[124,1000],"domainDashOffset":-5,"tickSize":7,"labelAngle":-90,"labelAlign":"center","labelBaseline":"bottom","labelPadding":5.5,"labelFontSize":12,"title":null}},
     "y2":{"datum":0}}},
   {"data":{"values":[{}]},"mark":{"type":"point","opacity":0},"encoding":{
     "x":{"datum":0,"type":"quantitative","axis":{"orient":"top","labels":false,"ticks":false,"domain":false,"title":"Common in mapDIA and MSstats","titleX":161.5,"titleY":-12,"titleAlign":"center","titleBaseline":"alphabetic","titleFontSize":19,"titleFontWeight":"bold"}},
     "y":{"datum":0,"type":"quantitative","axis":{"orient":"left","labels":false,"ticks":false,"domain":false,"title":"E","titleAngle":0,"titleX":-71,"titleY":-9,"titleAlign":"left","titleBaseline":"alphabetic","titleFontSize":26,"titleFontWeight":"bold"}}}}
  ],
  "resolve":{"axis":{"x":"independent","y":"independent"}}},
 {"width":1,"height":84,"data":{"values":[]},"mark":"point","encoding":{}},
 {"width":309,"height":136,
  "layer":[
   {"data":{"name":"eb"},"mark":{"type":"rect","fill":"white","stroke":"black","strokeWidth":1,"clip":true},
    "encoding":{
     "x":{"field":"lo","type":"quantitative","scale":{"domain":[-0.4327,1.053],"nice":false,"zero":false},"axis":{"values":[-0.2,0,0.2,0.4,0.6,0.8,1.0],"format":".1f","domain":true,"domainDash":[250,1000],"domainDashOffset":-48,"tickSize":7,"labelPadding":6,"labelFontSize":12,"title":"Inter-replicate correlation","titleFontSize":16.5,"titleX":173,"titleY":41,"titleAlign":"center","titleBaseline":"alphabetic"}},
     "x2":{"field":"hi"},
     "y":{"field":"n","type":"quantitative","scale":{"domain":[-3.69,80],"nice":false,"zero":false},"axis":{"values":[0,20,40,60,80],"offset":-16,"domain":true,"domainDash":[130,1000],"domainDashOffset":-6,"tickSize":7,"labelAngle":-90,"labelAlign":"center","labelBaseline":"bottom","labelPadding":5.5,"labelFontSize":12,"title":null}},
     "y2":{"datum":0}}},
   {"data":{"values":[{}]},"mark":{"type":"point","opacity":0},"encoding":{
     "x":{"datum":0,"type":"quantitative","axis":{"orient":"top","labels":false,"ticks":false,"domain":false,"title":"Only in MSstats","titleX":161,"titleY":-7,"titleAlign":"center","titleBaseline":"alphabetic","titleFontSize":19,"titleFontWeight":"bold"}}}}
  ],
  "resolve":{"axis":{"x":"independent","y":"independent"}}},
 {"width":1,"height":135,"data":{"values":[]},"mark":"point","encoding":{}},
 {"width":330,"height":305,"view":{"stroke":"black","strokeWidth":1},
  "layer":[
   {"data":{"name":"f"},"mark":{"type":"line","color":"black","strokeWidth":1.1},
    "encoding":{
     "x":{"field":"k","type":"quantitative","scale":{"domain":[-39,3196],"nice":false,"zero":false},"axis":{"values":[0,500,1000,1500,2000,2500,3000],"format":"d","domain":false,"tickSize":7,"labelPadding":11,"labelFontSize":14,"title":"Top K comparisons","titleFontSize":16.5,"titleX":165,"titleY":52,"titleAlign":"center","titleBaseline":"alphabetic"}},
     "y":{"field":"p","type":"quantitative","scale":{"domain":[-0.0201,0.5385],"nice":false,"zero":false},"axis":{"values":[0,0.1,0.2,0.3,0.4,0.5],"format":".1f","domain":false,"tickSize":7,"labelAngle":-90,"labelAlign":"center","labelBaseline":"bottom","labelPadding":14,"labelFontSize":14,"title":"Percentage of Akt substrates","titleFontSize":16.5,"titleAngle":-90,"titleX":-50,"titleY":144,"titleAlign":"center","titleBaseline":"alphabetic"}},
     "strokeDash":{"field":"m","type":"nominal","scale":{"domain":["mapDIA","MSstats"],"range":[[1,0],[4,3]]},"legend":{"orient":"none","legendX":157,"legendY":75,"title":null,"strokeColor":"black","padding":7,"labelFontSize":15,"labelColor":"black","symbolType":"M-1.5,0H1.5","symbolSize":324,"symbolStrokeWidth":1,"symbolStrokeColor":"black","symbolOffset":9,"labelOffset":13,"rowPadding":0}}}},
   {"data":{"values":[{}]},"mark":{"type":"point","opacity":0},"encoding":{
     "x":{"datum":0,"type":"quantitative","axis":{"orient":"top","labels":false,"ticks":false,"domain":false,"title":["AKT substrates in","significance comparisons"],"titleX":160,"titleY":-33,"titleAlign":"center","titleBaseline":"alphabetic","titleFontSize":19,"titleFontWeight":"bold","titleLineHeight":22}},
     "y":{"datum":0,"type":"quantitative","axis":{"orient":"left","labels":false,"ticks":false,"domain":false,"title":"F","titleAngle":0,"titleX":-71,"titleY":-30,"titleAlign":"left","titleBaseline":"alphabetic","titleFontSize":26,"titleFontWeight":"bold"}}}}
  ],
  "resolve":{"axis":{"x":"independent","y":"independent"}}}
 ],"spacing":0,"bounds":"flush","resolve":{"legend":{"strokeDash":"independent"},"scale":{"strokeDash":"independent"}}}
],
"spacing":18
}
